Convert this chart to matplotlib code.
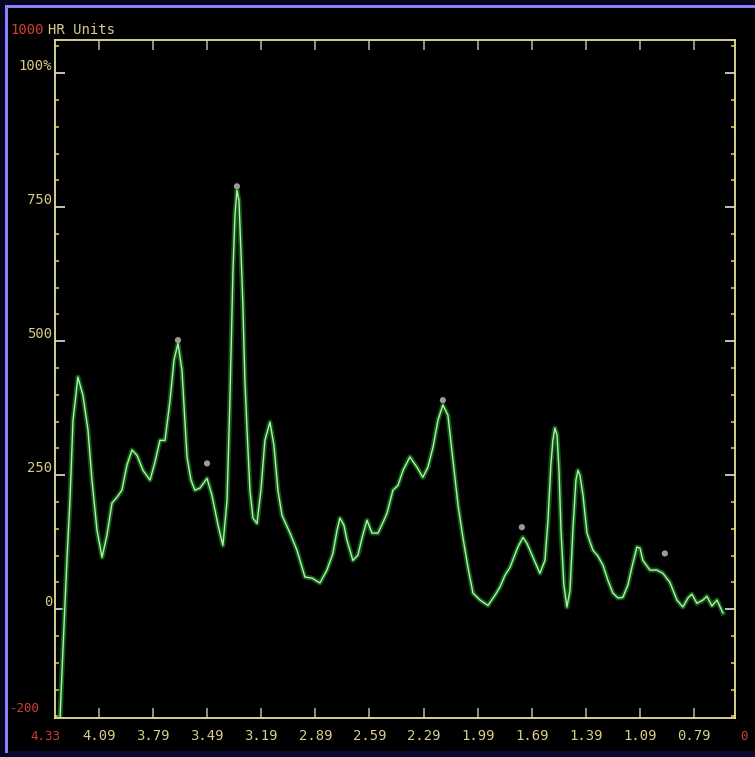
import matplotlib
matplotlib.use("Agg")
import matplotlib.pyplot as plt
from matplotlib.patches import Rectangle
from matplotlib.ticker import MultipleLocator

# Chemical shift (ppm) and intensity (HR units) of the spectrum trace
ppm = [4.306, 4.290, 4.268, 4.251, 4.234, 4.207, 4.179, 4.151, 4.129, 4.101,
       4.073, 4.046, 4.018, 3.990, 3.963, 3.935, 3.907, 3.879, 3.846, 3.807,
       3.780, 3.752, 3.724, 3.696, 3.674, 3.652, 3.630, 3.602, 3.580, 3.558,
       3.530, 3.491, 3.464, 3.430, 3.403, 3.380, 3.364, 3.347, 3.336, 3.325,
       3.314, 3.303, 3.292, 3.281, 3.269, 3.253, 3.236, 3.214, 3.192, 3.170,
       3.142, 3.120, 3.098, 3.075, 3.031, 2.992, 2.948, 2.909, 2.865, 2.826,
       2.793, 2.770, 2.754, 2.732, 2.715, 2.682, 2.654, 2.632, 2.604, 2.576,
       2.543, 2.515, 2.493, 2.460, 2.432, 2.404, 2.366, 2.327, 2.294, 2.266,
       2.238, 2.210, 2.183, 2.155, 2.127, 2.099, 2.072, 2.044, 2.016, 1.977,
       1.933, 1.894, 1.867, 1.839, 1.811, 1.767, 1.739, 1.717, 1.695, 1.672,
       1.645, 1.617, 1.600, 1.584, 1.573, 1.562, 1.550, 1.539, 1.528, 1.512,
       1.495, 1.478, 1.462, 1.445, 1.434, 1.423, 1.406, 1.384, 1.351, 1.323,
       1.295, 1.268, 1.240, 1.212, 1.185, 1.157, 1.135, 1.107, 1.090, 1.074,
       1.035, 0.996, 0.963, 0.924, 0.885, 0.852, 0.824, 0.802, 0.774, 0.741,
       0.719, 0.691, 0.663, 0.630]
intensity = [-203, -76, 91, 203, 353, 433, 399, 334, 241, 147,
             97, 138, 198, 209, 222, 269, 297, 287, 259, 241,
             274, 315, 315, 390, 465, 496, 446, 284, 241, 222,
             226, 244, 213, 157, 119, 203, 390, 632, 735, 782,
             763, 670, 567, 427, 334, 222, 170, 160, 222, 315,
             349, 306, 222, 175, 142, 110, 60, 58, 49, 73,
             104, 147, 170, 157, 129, 91, 101, 132, 166, 142,
             142, 162, 179, 222, 231, 259, 284, 265, 246, 265,
             302, 353, 381, 362, 278, 194, 134, 78, 30, 17,
             7, 26, 41, 63, 78, 116, 134, 123, 106, 88,
             67, 91, 166, 269, 315, 338, 325, 259, 147, 45,
             4, 35, 147, 241, 259, 250, 213, 142, 110, 99,
             82, 54, 30, 21, 22, 45, 78, 116, 114, 91,
             73, 73, 67, 50, 17, 4, 21, 28, 11, 17,
             24, 6, 17, -7]

# Picked peak markers
peak_ppm = [3.652, 3.325, 3.491, 2.183, 1.745, 0.952]
peak_int = [502, 789, 272, 390, 153, 104]

# Axis ticks
x_ticks = [4.09, 3.79, 3.49, 3.19, 2.89, 2.59, 2.29, 1.99, 1.69, 1.39, 1.09, 0.79]
x_labels = ["4.09", "3.79", "3.49", "3.19", "2.89", "2.59", "2.29", "1.99",
            "1.69", "1.39", "1.09", "0.79"]
y_ticks = [0, 250, 500, 750, 1000]
y_labels = ["0", "250", "500", "750", "100%"]

FRAME = "#e4e09a"
LABEL = "#d8cc88"
MONO = "DejaVu Sans Mono"

fig = plt.figure(figsize=(7.55, 7.57), dpi=100, facecolor="black")
W, H = 755, 757

# Outer window border
fig.patches.append(Rectangle((0, 0), 1, 1, transform=fig.transFigure,
                             facecolor="#05051e", edgecolor="none", zorder=-3))
fig.patches.append(Rectangle((8 / W, 0), 1, (H - 8) / H, transform=fig.transFigure,
                             facecolor="black", edgecolor="none", zorder=-2))
fig.patches.append(Rectangle((5 / W, 4 / H), 3 / W, (H - 9) / H,
                             transform=fig.transFigure, facecolor="#8c80ff",
                             edgecolor="none", zorder=-1))
fig.patches.append(Rectangle((5 / W, (H - 8) / H), 1, 3 / H,
                             transform=fig.transFigure, facecolor="#8c80ff",
                             edgecolor="none", zorder=-1))
fig.patches.append(Rectangle((8 / W, 0), 1, 6 / H, transform=fig.transFigure,
                             facecolor="#0a0a30", edgecolor="none", zorder=-1))

ax = fig.add_axes([55 / W, (H - 718) / H, (735 - 55) / W, (718 - 40) / H])
ax.set_facecolor("black")

# Trace: dark green glow under a pale core
ax.plot(ppm, intensity, color="#0f6b14", lw=3.6, alpha=0.85,
        solid_joinstyle="round", zorder=2)
ax.plot(ppm, intensity, color="#b8ecb4", lw=1.0, solid_joinstyle="round", zorder=3)
ax.scatter(peak_ppm, peak_int, s=20, color="#9a9a9a", edgecolors="none", zorder=4)

ax.set_xlim(4.334, 0.563)
ax.set_ylim(-203, 1062)

for s in ax.spines.values():
    s.set_color(FRAME)
    s.set_linewidth(1.3)

ax.set_xticks(x_ticks)
ax.set_xticklabels(x_labels)
ax.set_yticks(y_ticks)
ax.set_yticklabels(y_labels)
ax.yaxis.set_minor_locator(MultipleLocator(50))

ax.tick_params(axis="x", which="major", direction="in", length=7, width=1.2,
               color="#a8a8a8", pad=8, labelsize=10, labelcolor=LABEL,
               top=True)
ax.tick_params(axis="y", which="major", direction="in", length=7, width=1.2,
               color="#e0e0e0", pad=2, labelsize=10, labelcolor=LABEL,
               right=True)
ax.tick_params(axis="y", which="minor", direction="in", length=3, width=1.5,
               color="#a89f40", right=True)
for lab in ax.get_xticklabels() + ax.get_yticklabels():
    lab.set_family(MONO)
for lab in ax.get_yticklabels():
    lab.set_verticalalignment("bottom")

# Corner annotations
fig.text(10 / W, 1 - 30 / H, "1000", color="#d04030", family=MONO,
         fontsize=10, va="center", ha="left")
fig.text(48 / W, 1 - 30 / H, "HR Units", color=LABEL, family=MONO,
         fontsize=10, va="center", ha="left")
fig.text(10 / W, 1 - 708 / H, "-200", color="#d04030", family=MONO,
         fontsize=9, va="center", ha="left")
fig.text(30 / W, 1 - 736 / H, "4.33", color="#d04030", family=MONO,
         fontsize=9, va="center", ha="left")
fig.text(740 / W, 1 - 736 / H, "0", color="#d04030", family=MONO,
         fontsize=9, va="center", ha="left")

fig.savefig("out.png", dpi=100, facecolor=fig.get_facecolor())
